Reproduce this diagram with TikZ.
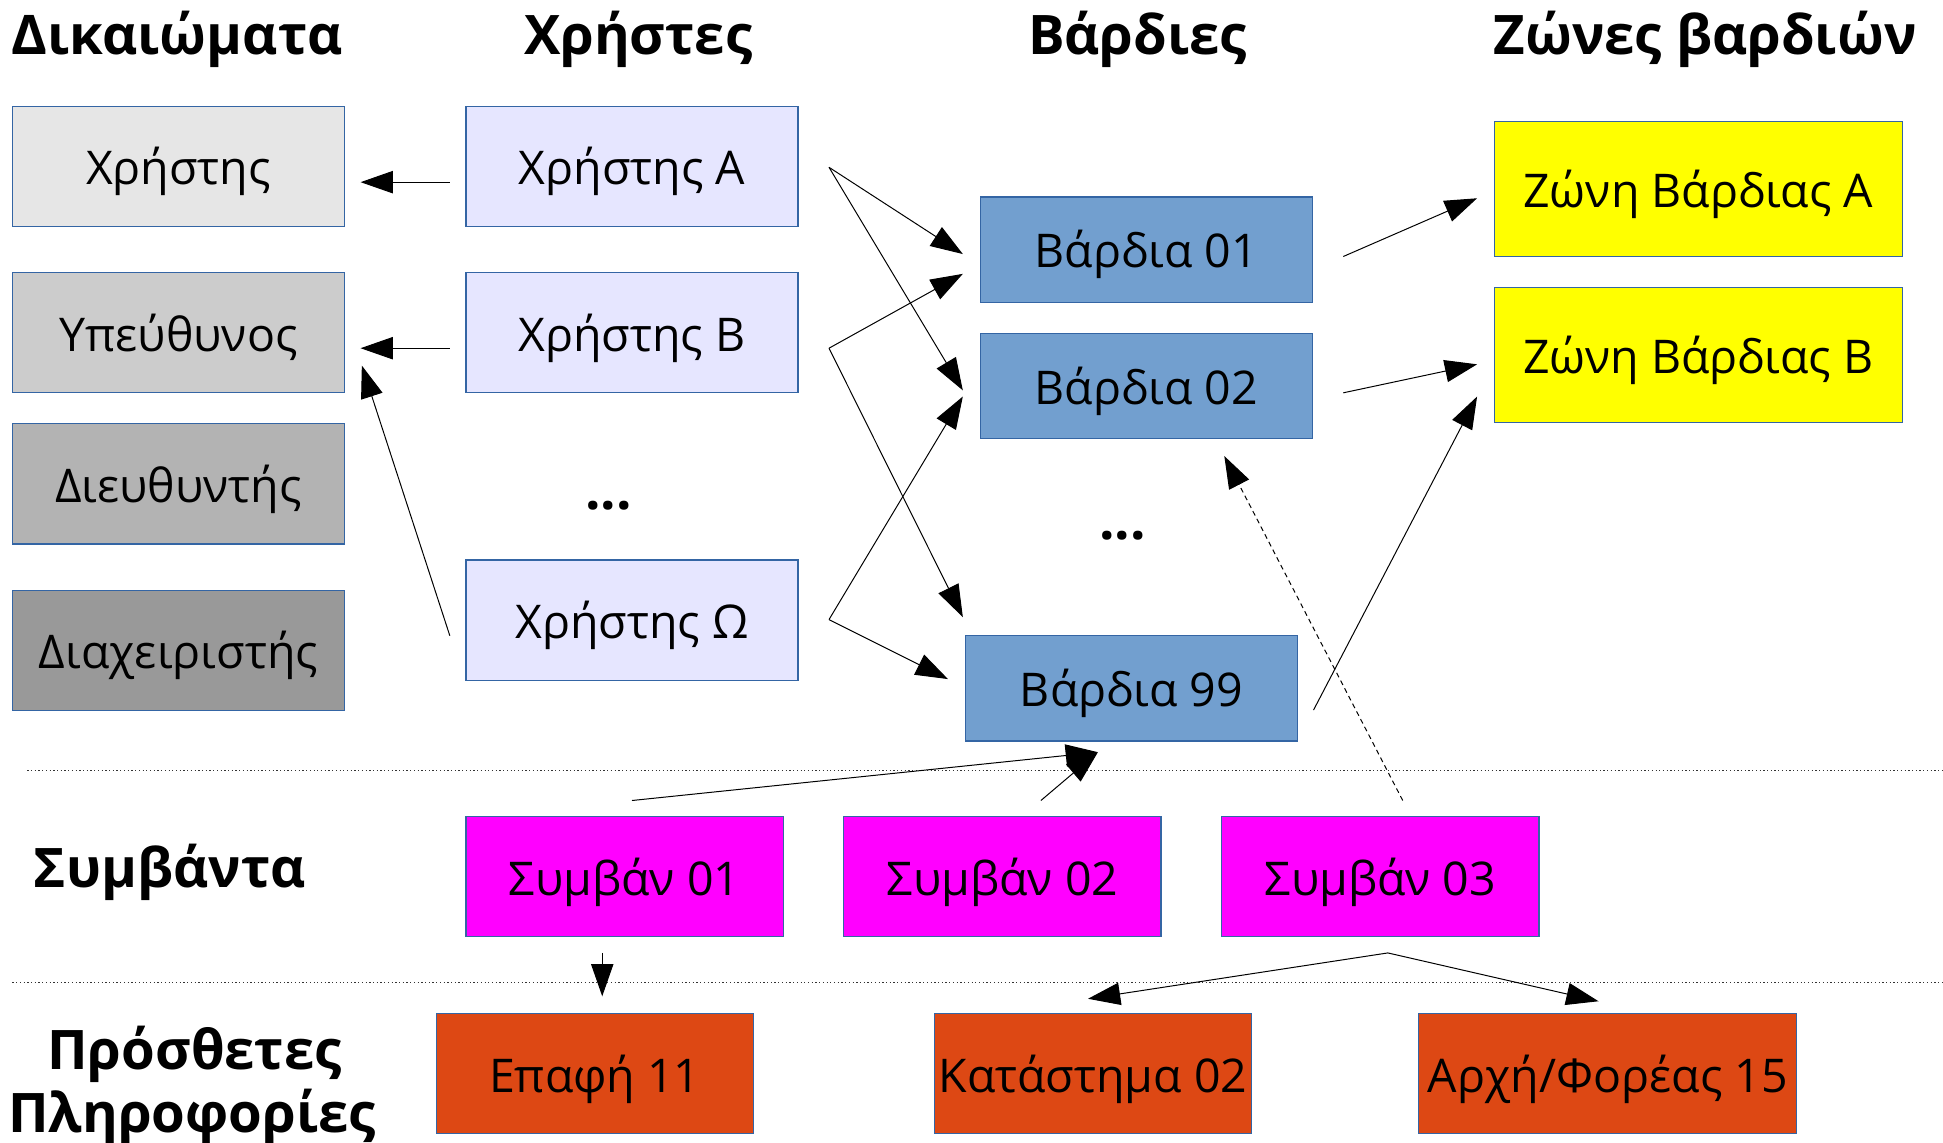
\documentclass[tikz,border=0pt]{standalone}
\usepackage{fontspec}
\setmainfont{Open Sans}
\newfontfamily\headfont{Open Sans}
\usetikzlibrary{arrows.meta}
\definecolor{boxblue}{HTML}{3465A4}
\definecolor{rA}{HTML}{E6E6E6}
\definecolor{rB}{HTML}{CCCCCC}
\definecolor{rC}{HTML}{B3B3B3}
\definecolor{rD}{HTML}{999999}
\definecolor{userc}{HTML}{E6E6FF}
\definecolor{shiftc}{HTML}{729FCF}
\definecolor{zonec}{HTML}{FFFF00}
\definecolor{eventc}{HTML}{FF00FF}
\definecolor{infoc}{HTML}{DD4814}
\begin{document}
\begin{tikzpicture}[x=1pt,y=-1pt,
  box/.style={draw=boxblue,line width=1pt,inner sep=0pt,text height=29.5pt,text depth=0pt,font=\fontsize{37.5}{44}\selectfont},
  rbox/.style={box,minimum width=268pt,minimum height=97pt},
  ubox/.style={box,fill=userc,minimum width=268pt,minimum height=97pt},
  sbox/.style={box,fill=shiftc,minimum width=268pt,minimum height=85pt},
  zbox/.style={box,fill=zonec,minimum width=329pt,minimum height=109pt},
  ebox/.style={box,fill=eventc,minimum width=256pt,minimum height=97pt},
  ibox/.style={box,fill=infoc,minimum width=256pt,minimum height=97pt},
  head/.style={font=\headfont\bfseries\fontsize{44}{48}\selectfont,inner sep=0pt,anchor=base},
  conn/.style={line width=0.8pt,-{Triangle[length=26pt,width=18pt]}},
  sep/.style={line width=1pt,dotted,black!80}]
\useasboundingbox (0,0) rectangle (1568,922);
% headers
\node[head] (h1) at (143,44) {Δικαιώματα};
\node[head] (h2) at (515,44) {Χρήστες};
\node[head] (h3) at (918,44) {Βάρδιες};
\node[head] (h4) at (1376,44) {Ζώνες βαρδιών};
\node[head] (h5) at (137,716) {Συμβάντα};
\node[head] (h6a) at (157,863) {Πρόσθετες};
\node[head] (h6b) at (155,914) {Πληροφορίες};
% rights
\node[rbox,fill=rA] (r1) at (144,134.5) {Χρήστης};
\node[rbox,fill=rB] (r2) at (144,268.5) {Υπεύθυνος};
\node[rbox,fill=rC] (r3) at (144,390.5) {Διευθυντής};
\node[rbox,fill=rD] (r4) at (144,525) {Διαχειριστής};
% users
\node[ubox] (u1) at (510,134.5) {Χρήστης Α};
\node[ubox] (u2) at (510,268.5) {Χρήστης Β};
\node[head] (ud) at (491,411) {...};
\node[ubox] (u3) at (510,500.5) {Χρήστης Ω};
% shifts
\node[sbox] (s1) at (925,201.5) {Βάρδια 01};
\node[sbox] (s2) at (925,311.5) {Βάρδια 02};
\node[head] (sd) at (906,435) {...};
\node[sbox] (s3) at (913,555.5) {Βάρδια 99};
% zones
\node[zbox] (z1) at (1370.5,152.5) {Ζώνη Βάρδιας Α};
\node[zbox] (z2) at (1370.5,286.5) {Ζώνη Βάρδιας Β};
% events
\node[ebox] (e1) at (504,707.5) {Συμβάν 01};
\node[ebox] (e2) at (809,707.5) {Συμβάν 02};
\node[ebox] (e3) at (1114,707.5) {Συμβάν 03};
% info
\node[ibox] (i1) at (480,866.5) {Επαφή 11};
\node[ibox] (i2) at (882,866.5) {Κατάστημα 02};
\node[ibox,minimum width=305pt] (i3) at (1297.5,866.5) {Αρχή/Φορέας 15};
% separators
\coordinate (l1a) at (22,622); \coordinate (l1b) at (1568,622);
\coordinate (l2a) at (10,793); \coordinate (l2b) at (1568,793);
\draw[sep] (l1a) -- (l1b);
\draw[sep] (l2a) -- (l2b);
% connector end points
\coordinate (u1w) at (363,147); \coordinate (r1e) at (291,147);
\coordinate (u2w) at (363,281); \coordinate (r2e) at (291,281);
\coordinate (u3w) at (363,513); \coordinate (r2se) at (292,295);
\coordinate (u1e) at (669,135);
\coordinate (u2e) at (669,281);
\coordinate (u3e) at (669,500);
\coordinate (s1wa) at (777,205); \coordinate (s1wb) at (777,221);
\coordinate (s2wa) at (777,315); \coordinate (s2wb) at (777,320);
\coordinate (s3n) at (777,498); \coordinate (s3w) at (765,548);
\coordinate (s1e) at (1084,207); \coordinate (z1w) at (1192,160);
\coordinate (s2e) at (1084,317); \coordinate (z2w) at (1192,294);
\coordinate (s3e) at (1060,573); \coordinate (z2sw) at (1192,320);
\coordinate (e1n) at (510,646); \coordinate (e2n) at (840,646);
\coordinate (s3s) at (886,607);
\coordinate (e3n) at (1132,646); \coordinate (s2s) at (988,368);
\coordinate (e1s) at (486,769); \coordinate (i1n) at (486,804);
\coordinate (e3s) at (1120,769); \coordinate (i2n) at (878,806); \coordinate (i3n) at (1290,808);
% connectors
\draw[conn] (u1w) -- (r1e);
\draw[conn] (u2w) -- (r2e);
\draw[conn] (u3w) -- (r2se);
\draw[conn] (u1e) -- (s1wa);
\draw[conn] (u1e) -- (s2wa);
\draw[conn] (u2e) -- (s1wb);
\draw[conn] (u2e) -- (s3n);
\draw[conn] (u3e) -- (s2wb);
\draw[conn] (u3e) -- (s3w);
\draw[conn] (s1e) -- (z1w);
\draw[conn] (s2e) -- (z2w);
\draw[conn] (s3e) -- (z2sw);
\draw[conn] (e1n) -- (s3s);
\draw[conn] (e2n) -- (s3s);
\draw[conn,dash pattern=on 4pt off 3pt] (e3n) -- (s2s);
\draw[conn] (e1s) -- (i1n);
\draw[conn] (e3s) -- (i2n);
\draw[conn] (e3s) -- (i3n);
\end{tikzpicture}
\end{document}
